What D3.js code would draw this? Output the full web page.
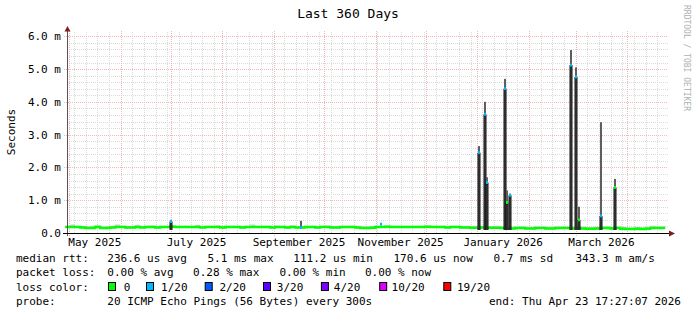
<!DOCTYPE html>
<html><head><meta charset="utf-8">
<script src="https://cdn.jsdelivr.net/npm/d3@7"></script>
<style>body{margin:0;background:#fff}svg{display:block}</style>
</head><body><svg id="c" width="697" height="315"></svg>
<script>
// ---------- data ----------
const endTime = "2026-04-23T17:27:07Z";
const rangeDays = 360;
const binDays = 3;
const yTickValues = [0, 1, 2, 3, 4, 5, 6];
const yTickLabels = ["0.0", "1.0 m", "2.0 m", "3.0 m", "4.0 m", "5.0 m", "6.0 m"];
const xLabelMonths = ["2025-05-01", "2025-07-01", "2025-09-01", "2025-11-01", "2026-01-01", "2026-03-01"];
const xLabelTexts = ["May 2025", "July 2025", "September 2025", "November 2025", "January 2026", "March 2026"];

// median rtt (ms), one value per 3-day bin
const baseMedian = [
  0.18,0.18,0.18,0.17,0.15,0.15,0.18,0.15,0.15,0.17,0.18,0.18,0.17,0.17,0.18,0.17,0.18,0.18,0.17,0.18,
  0.18,0.19,0.18,0.18,0.18,0.18,0.18,0.17,0.18,0.18,0.18,0.17,0.18,0.18,0.18,0.17,0.18,0.18,0.18,0.18,
  0.18,0.17,0.18,0.18,0.17,0.18,0.17,0.17,0.18,0.18,0.17,0.18,0.18,0.17,0.17,0.18,0.18,0.18,0.17,0.15,
  0.15,0.16,0.18,0.18,0.19,0.18,0.18,0.18,0.18,0.18,0.18,0.18,0.19,0.18,0.18,0.18,0.17,0.18,0.18,0.17,
  0.17,0.16,0.16,0.17,0.16,0.16,0.16,0.15,0.14,0.14,0.15,0.15,0.14,0.14,0.15,0.15,0.14,0.14,0.15,0.15,
  0.15,0.14,0.15,0.14,0.13,0.13,0.14,0.15,0.15,0.14,0.15,0.13,0.12,0.12,0.13,0.12,0.13,0.15,0.15,0.15
];
// top of the smoke (ms), one value per 3-day bin
const baseSmokeHi = [
  0.22,0.26,0.22,0.21,0.20,0.22,0.24,0.20,0.21,0.22,0.26,0.22,0.21,0.22,0.25,0.21,0.22,0.23,0.21,0.22,
  0.22,0.24,0.22,0.22,0.22,0.22,0.25,0.21,0.22,0.22,0.24,0.21,0.22,0.22,0.22,0.21,0.22,0.26,0.22,0.22,
  0.22,0.21,0.23,0.22,0.21,0.24,0.21,0.22,0.22,0.22,0.21,0.22,0.23,0.21,0.21,0.22,0.22,0.22,0.21,0.20,
  0.20,0.21,0.22,0.22,0.23,0.22,0.22,0.22,0.22,0.22,0.22,0.22,0.23,0.22,0.22,0.22,0.21,0.22,0.22,0.21,
  0.22,0.21,0.21,0.22,0.21,0.21,0.21,0.20,0.20,0.20,0.20,0.20,0.19,0.19,0.20,0.20,0.19,0.19,0.20,0.20,
  0.20,0.19,0.20,0.19,0.18,0.18,0.19,0.20,0.20,0.19,0.20,0.18,0.17,0.17,0.18,0.17,0.18,0.22,0.20,0.20
];

// isolated events
const spikeTimes  = ["2025-06-30T14:00Z","2025-09-16T14:00Z","2025-11-03T14:00Z",
                     "2026-01-01T10:00Z","2026-01-05T00:00Z","2026-01-06T12:00Z",
                     "2026-01-16T17:00Z","2026-01-18T05:00Z","2026-01-20T00:00Z",
                     "2026-02-25T21:00Z","2026-02-28T21:00Z","2026-03-02T10:00Z",
                     "2026-03-15T14:00Z","2026-03-24T07:00Z"];
const spikeMedian = [0.35, 0.17, 0.27, 2.45, 3.62, 1.54, 4.40, 0.93, 1.15, 5.12, 4.76, 0.40, 0.52, 1.39];
const spikeTop    = [0.40, 0.37, 0.30, 2.65, 4.00, 1.70, 4.70, 1.30, 1.20, 5.58, 5.05, 0.80, 3.38, 1.65];
const spikeLoss   = [1, 1, 1, 1, 1, 1, 1, 0, 1, 1, 1, 0, 1, 0];

const lossColors = ["#00ff00", "#00b8ff", "#0059ff", "#5e00ff", "#7e00ff", "#dd00ff", "#ff0000"];
const lossLabels = ["0", "1/20", "2/20", "3/20", "4/20", "10/20", "19/20"];

const statLine1 = ["median rtt:", "236.6 us avg", "5.1 ms max", "111.2 us min", "170.6 us now", "0.7 ms sd", "343.3 m am/s"];
const statLine2 = ["packet loss:", "0.00 % avg", "0.28 % max", "0.00 % min", "0.00 % now"];
const probeText = ["probe:", "20 ICMP Echo Pings (56 Bytes) every 300s", "end: Thu Apr 23 17:27:07 2026"];

// ---------- layout ----------
const svg = d3.select("#c");
const MONO = "'DejaVu Sans Mono', monospace";
const end = new Date(endTime);
const start = new Date(end.getTime() - rangeDays * 864e5);
const plotL = 67, plotR = 665.2, gridR = 668, plotTop = 33, plotBot = 233;

const x = d3.scaleUtc().domain([start, end]).range([plotR - 600, plotR]);
const y = d3.scaleLinear().domain([0, 6.1]).range([plotBot, plotTop]);

svg.append("rect").attr("width", 697).attr("height", 315).attr("fill", "#fff");

// grid
const g = svg.append("g");
const minorY = d3.range(0, 61, 2).map(v => v / 10).filter(v => v % 1 !== 0);
g.selectAll(".hmin").data(minorY).join("line")
  .attr("x1", plotL).attr("x2", gridR)
  .attr("y1", d => Math.round(y(d)) + 0.5).attr("y2", d => Math.round(y(d)) + 0.5)
  .attr("stroke", "#dadada").attr("stroke-dasharray", "1,1");
const weeks = d3.utcSunday.range(start, end).filter(d => d3.utcMonth.floor(d).getTime() !== d.getTime());
g.selectAll(".vmin").data(weeks).join("line")
  .attr("x1", d => Math.round(x(d)) + 0.5).attr("x2", d => Math.round(x(d)) + 0.5)
  .attr("y1", plotBot).attr("y2", plotTop - 2)
  .attr("stroke", "#dadada").attr("stroke-dasharray", "1,1");
const months = d3.utcMonth.range(start, end);
g.selectAll(".vmaj").data(months).join("line")
  .attr("x1", d => Math.round(x(d)) + 0.5).attr("x2", d => Math.round(x(d)) + 0.5)
  .attr("y1", plotBot + 3).attr("y2", plotTop - 2)
  .attr("stroke", "#f0b8b8").attr("stroke-dasharray", "1,1");
g.selectAll(".hmaj").data(yTickValues.filter(v => v > 0)).join("line")
  .attr("x1", plotL - 3).attr("x2", gridR)
  .attr("y1", d => Math.round(y(d)) + 0.5).attr("y2", d => Math.round(y(d)) + 0.5)
  .attr("stroke", "#f0b8b8").attr("stroke-dasharray", "1,1");

// baseline smoke + median
const binDate = i => new Date(start.getTime() + i * binDays * 864e5);
const idx = d3.range(baseMedian.length + 1);
const val = (arr, i) => arr[Math.min(i, arr.length - 1)];
svg.append("path")
  .attr("d", d3.area().curve(d3.curveStepAfter)
    .x(i => x(binDate(i))).y0(i => y(val(baseMedian, i) - 0.03)).y1(i => y(val(baseSmokeHi, i)))(idx))
  .attr("fill", "#cfcfcf");
svg.append("path")
  .attr("d", d3.line().curve(d3.curveStepAfter)
    .x(i => x(binDate(Math.min(i, baseMedian.length)))).y(i => y(val(baseMedian, i)))(idx))
  .attr("fill", "none").attr("stroke", lossColors[0]).attr("stroke-width", 2.5);

// spikes
const sp = svg.append("g");
spikeTimes.forEach((t, i) => {
  const sx = Math.round(x(new Date(t)));
  const ym = y(spikeMedian[i]), yt = y(spikeTop[i]);
  sp.append("rect").attr("x", sx).attr("width", 2).attr("y", yt).attr("height", Math.max(0, ym - yt))
    .attr("fill", "#5e5e5e");
  if (spikeMedian[i] > 0.3) {
    sp.append("rect").attr("x", sx - 0.5).attr("width", 3).attr("y", ym).attr("height", plotBot - 3 - ym)
      .attr("fill", "#111");
    sp.append("rect").attr("x", sx + 0.5).attr("width", 1).attr("y", ym + 2).attr("height", plotBot - 5 - ym)
      .attr("fill", "#4a4a4a");
  }
  sp.append("rect").attr("x", sx).attr("width", 2).attr("y", ym - 1.5).attr("height", 3)
    .attr("fill", lossColors[spikeLoss[i]]);
});

// axes
svg.append("line").attr("x1", plotL + 0.5).attr("x2", plotL + 0.5).attr("y1", plotBot + 3).attr("y2", 30)
  .attr("stroke", "#555");
svg.append("line").attr("x1", 63).attr("x2", 670).attr("y1", plotBot + 0.5).attr("y2", plotBot + 0.5)
  .attr("stroke", "#000");
svg.append("path").attr("d", `M${plotL + 0.5},26 L${plotL + 3.5},31.5 L${plotL - 2.5},31.5 Z`).attr("fill", "#7f1d1d");
svg.append("path").attr("d", `M675,${plotBot + 0.5} L669,${plotBot - 2.5} L669,${plotBot + 3.5} Z`).attr("fill", "#7f1d1d");

// y tick labels
svg.selectAll(".yl").data(yTickValues).join("text")
  .attr("x", 61).attr("y", d => y(d) + 4)
  .attr("text-anchor", "end").attr("font-family", MONO).attr("font-size", 11).attr("fill", "#000")
  .text((d, i) => yTickLabels[i]);

// x labels (centred in their month)
svg.selectAll(".xl").data(xLabelMonths).join("text")
  .attr("x", d => { const m = new Date(d + "T00:00:00Z"); return (x(m) + x(d3.utcMonth.offset(m, 1))) / 2; })
  .attr("y", 246).attr("text-anchor", "middle").attr("font-family", MONO).attr("font-size", 11)
  .text((d, i) => xLabelTexts[i]);

// titles
svg.append("text").attr("x", 348).attr("y", 18).attr("text-anchor", "middle")
  .attr("font-family", MONO).attr("font-size", 13).text("Last 360 Days");
svg.append("text").attr("transform", "translate(15,132) rotate(-90)").attr("text-anchor", "middle")
  .attr("font-family", MONO).attr("font-size", 11).text("Seconds");
svg.append("text").attr("transform", "translate(684,5) rotate(90)")
  .attr("font-family", MONO).attr("font-size", 8).attr("fill", "#b0b0b0").text("RRDTOOL / TOBI OETIKER");

// legend
const L1x = [16, 107.3, 207.4, 293.3, 393.4, 493.5, 575.4];
const L2x = [16, 107.3, 193.1, 279.5, 364.9];
const legend = svg.append("g").attr("font-family", MONO).attr("font-size", 11).attr("fill", "#000");
statLine1.forEach((t, i) => legend.append("text").attr("x", L1x[i]).attr("y", 262).text(t));
statLine2.forEach((t, i) => legend.append("text").attr("x", L2x[i]).attr("y", 276).text(t));
legend.append("text").attr("x", 16).attr("y", 291).text("loss color:");
const boxX = [108, 146, 204.7, 263, 320.9, 379.2, 443.3];
const lblX = [123.7, 161.1, 219.4, 276.8, 333.8, 391.6, 457];
lossColors.forEach((c, i) => {
  legend.append("rect").attr("x", boxX[i] + 0.5).attr("y", 282.5).attr("width", 7).attr("height", 8)
    .attr("fill", c).attr("stroke", "#000");
  legend.append("text").attr("x", lblX[i]).attr("y", 291).text(lossLabels[i]);
});
legend.append("text").attr("x", 16).attr("y", 305).text(probeText[0]);
legend.append("text").attr("x", 107.3).attr("y", 305).text(probeText[1]);
legend.append("text").attr("x", 681).attr("y", 305).attr("text-anchor", "end").text(probeText[2]);
</script></body></html>
